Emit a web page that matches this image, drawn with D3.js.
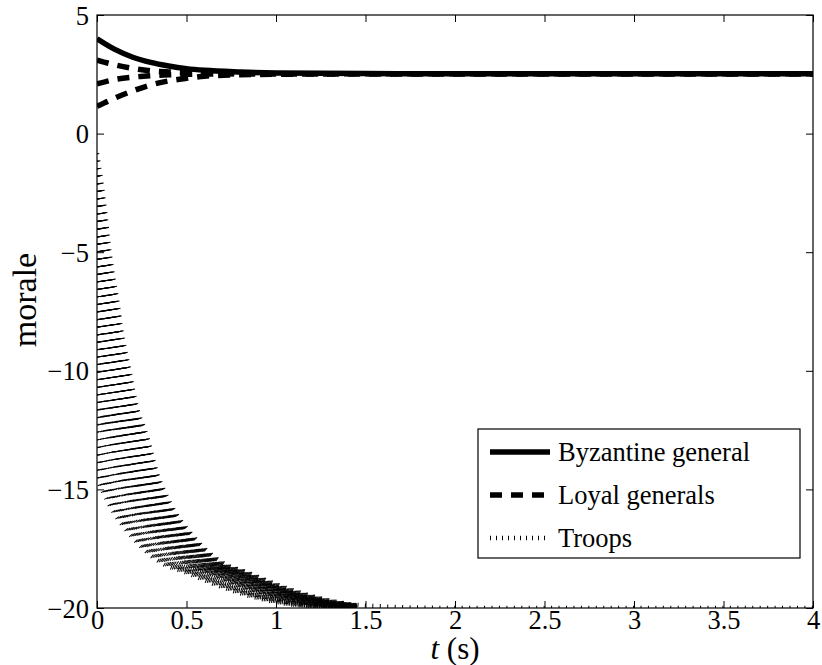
<!DOCTYPE html>
<html>
<head>
<meta charset="utf-8">
<script src="https://cdn.jsdelivr.net/npm/d3@7"></script>
<style>
  html, body { margin: 0; padding: 0; background: #fff; }
  svg { display: block; }
  text { font-family: "Liberation Serif", "Times New Roman", serif; fill: #000; }
</style>
</head>
<body>
<svg id="chart" width="822" height="665"></svg>
<script>
// ---- data ----
const xTicks = [0, 0.5, 1, 1.5, 2, 2.5, 3, 3.5, 4];
const yTicks = [5, 0, -5, -10, -15, -20];

// generals, sampled at these times
const genTimes   = [0, 0.1, 0.2, 0.3, 0.4, 0.5, 0.6, 0.8, 1.0, 1.5, 2, 4];
const byzantine  = [4.0, 3.55, 3.22, 3.0, 2.85, 2.74, 2.67, 2.6, 2.56, 2.53, 2.52, 2.52];
const loyalHigh  = [3.1, 2.9, 2.75, 2.65, 2.6, 2.57, 2.55, 2.53, 2.52, 2.52, 2.52, 2.52];
const loyalMid   = [2.1, 2.28, 2.38, 2.44, 2.48, 2.5, 2.51, 2.52, 2.52, 2.52, 2.52, 2.52];
const loyalLow   = [1.15, 1.5, 1.8, 2.05, 2.22, 2.33, 2.42, 2.48, 2.5, 2.52, 2.52, 2.52];

// troops: starting morale of each troop (left edge of the plot)
const troopStarts = [
  -0.83, -1.15, -1.47, -1.79, -2.10, -2.42, -2.74, -3.06, -3.37, -3.69, -4.01,
  -4.33, -4.64, -4.96, -5.28, -5.60, -5.91, -6.23, -6.55, -6.87, -7.18, -7.50,
  -7.82, -8.14, -8.45, -8.77, -9.09, -9.41, -9.72, -10.04, -10.36, -10.68, -10.99,
  -11.31, -11.63, -11.95, -12.26, -12.58, -12.90, -13.22, -13.53, -13.85, -14.17, -14.49
];
// common troop trajectory (outer envelope of the troop curves), stays at -20 afterwards
const troopTimes  = [0, 0.025, 0.046, 0.064, 0.087, 0.115, 0.133, 0.18, 0.217, 0.28, 0.33, 0.41, 0.54, 0.71, 0.84, 1.0, 1.25, 1.5, 2.0, 4.5];
const troopValues = [-0.83, -2.10, -3.36, -4.63, -5.89, -7.16, -8.15, -9.97, -11.38, -12.79, -14.19, -15.6, -17.0, -18.13, -18.5, -19.0, -19.6, -19.9, -20, -20];

const legendLabels = ['Byzantine general', 'Loyal generals', 'Troops'];

// ---- layout ----
const svg = d3.select('#chart');
const margin = { top: 15, right: 9, bottom: 57, left: 97 };
const width = 822 - margin.left - margin.right;
const height = 665 - margin.top - margin.bottom;
const tickLen = 7;
const dotPeriod = 7.45;

const x = d3.scaleLinear().domain([0, 4]).range([0, width]);
const y = d3.scaleLinear().domain([-20, 5]).range([height, 0]);

const g = svg.append('g').attr('transform', `translate(${margin.left},${margin.top})`);

const defs = g.append('defs');
defs.append('clipPath').attr('id', 'plot-clip')
  .append('rect').attr('width', width).attr('height', height);
// once converged, the troops sit on top of each other at -20; show one of them there
defs.append('clipPath').attr('id', 'early-clip')
  .append('rect').attr('width', x(1.45)).attr('height', height);

const line = d3.line()
  .x(d => x(d[0]))
  .y(d => y(d[1]))
  .curve(d3.curveMonotoneX);

const plot = g.append('g').attr('clip-path', 'url(#plot-clip)');

// troops: each one runs along the common trajectory, entered at its own start value
const envD = line(troopTimes.map((t, i) => [t, troopValues[i]]));
const probe = plot.append('path').attr('d', envD).attr('fill', 'none').attr('stroke', 'none');
const probeNode = probe.node();
const total = probeNode.getTotalLength();

const troops = troopStarts.map(s => {
  const target = y(s);
  let lo = 0, hi = total;
  for (let k = 0; k < 40; k++) {
    const mid = (lo + hi) / 2;
    if (probeNode.getPointAtLength(mid).y < target) lo = mid; else hi = mid;
  }
  const p = probeNode.getPointAtLength(lo);
  return { shift: p.x, len: lo };
});
probe.remove();

const drawTroops = (sel, data) => sel.selectAll('path.troop')
  .data(data)
  .join('path')
  .attr('class', 'troop')
  .attr('d', envD)
  .attr('transform', d => `translate(${-d.shift},0)`)
  .attr('fill', 'none')
  .attr('stroke', '#000')
  .attr('stroke-width', 4.5)
  .attr('stroke-dasharray', `1,${dotPeriod - 1}`)
  .attr('stroke-dashoffset', d => -d.len);

drawTroops(plot.append('g').attr('clip-path', 'url(#early-clip)'), troops.slice(1));
drawTroops(plot.append('g'), troops.slice(0, 1));

const loyal = [loyalHigh, loyalMid, loyalLow].map(v => genTimes.map((t, i) => [t, v[i]]));
plot.selectAll('path.loyal')
  .data(loyal)
  .join('path')
  .attr('class', 'loyal')
  .attr('d', line)
  .attr('fill', 'none')
  .attr('stroke', '#000')
  .attr('stroke-width', 5.5)
  .attr('stroke-dasharray', '12,9');

plot.append('path')
  .datum(genTimes.map((t, i) => [t, byzantine[i]]))
  .attr('d', line)
  .attr('fill', 'none')
  .attr('stroke', '#000')
  .attr('stroke-width', 5.5);

// ---- axes (MATLAB style: box, inward ticks on all sides) ----
const fontSize = 26.5;
const xAxis = g.append('g').attr('transform', `translate(0,${height})`)
  .call(d3.axisBottom(x).tickValues(xTicks).tickSize(-tickLen).tickSizeOuter(0).tickPadding(1)
    .tickFormat(d3.format('')));
const yAxis = g.append('g')
  .call(d3.axisLeft(y).tickValues(yTicks).tickSize(-tickLen).tickSizeOuter(0).tickPadding(8));
g.append('g').attr('transform', `translate(${width},0)`)
  .call(d3.axisRight(y).tickValues(yTicks).tickSize(-tickLen).tickSizeOuter(0).tickFormat(''));
g.append('g')
  .call(d3.axisTop(x).tickValues(xTicks).tickSize(-tickLen).tickSizeOuter(0).tickFormat(''));

g.selectAll('.domain').remove();
g.selectAll('.tick line').attr('stroke', '#000').attr('stroke-width', 1);
g.selectAll('.tick text')
  .style('font-family', '"Liberation Serif", serif')
  .style('font-size', fontSize + 'px')
  .attr('fill', '#000');
xAxis.selectAll('.tick text').attr('dy', '0.74em');
yAxis.selectAll('.tick text').attr('dy', '0.34em');

g.append('rect')
  .attr('width', width).attr('height', height)
  .attr('fill', 'none').attr('stroke', '#000').attr('stroke-width', 1.2);

// axis labels
const xLabel = svg.append('text')
  .attr('x', margin.left + width / 2)
  .attr('y', 659)
  .attr('text-anchor', 'middle')
  .style('font-size', '31px');
xLabel.append('tspan').style('font-style', 'italic').text('t');
xLabel.append('tspan').text(' (s)');

svg.append('text')
  .attr('transform', 'translate(36,300) rotate(-90)')
  .attr('text-anchor', 'middle')
  .style('font-size', '34px')
  .text('morale');

// ---- legend ----
const lg = svg.append('g').attr('transform', 'translate(478,429)');
lg.append('rect')
  .attr('width', 322).attr('height', 129)
  .attr('fill', '#fff').attr('stroke', '#000').attr('stroke-width', 1.2);

const legendStyles = [
  { width: 5.5, dash: null },
  { width: 5.5, dash: '12,9' },
  { width: 4.5, dash: '1,5' }
];
const rowY = [23, 66, 109];
legendLabels.forEach((label, i) => {
  lg.append('line')
    .attr('x1', 12).attr('x2', 72)
    .attr('y1', rowY[i]).attr('y2', rowY[i])
    .attr('stroke', '#000')
    .attr('stroke-width', legendStyles[i].width)
    .attr('stroke-dasharray', legendStyles[i].dash);
  lg.append('text')
    .attr('x', 80).attr('y', rowY[i])
    .attr('dy', '0.34em')
    .style('font-size', '26.5px')
    .text(label);
});
</script>
</body>
</html>
